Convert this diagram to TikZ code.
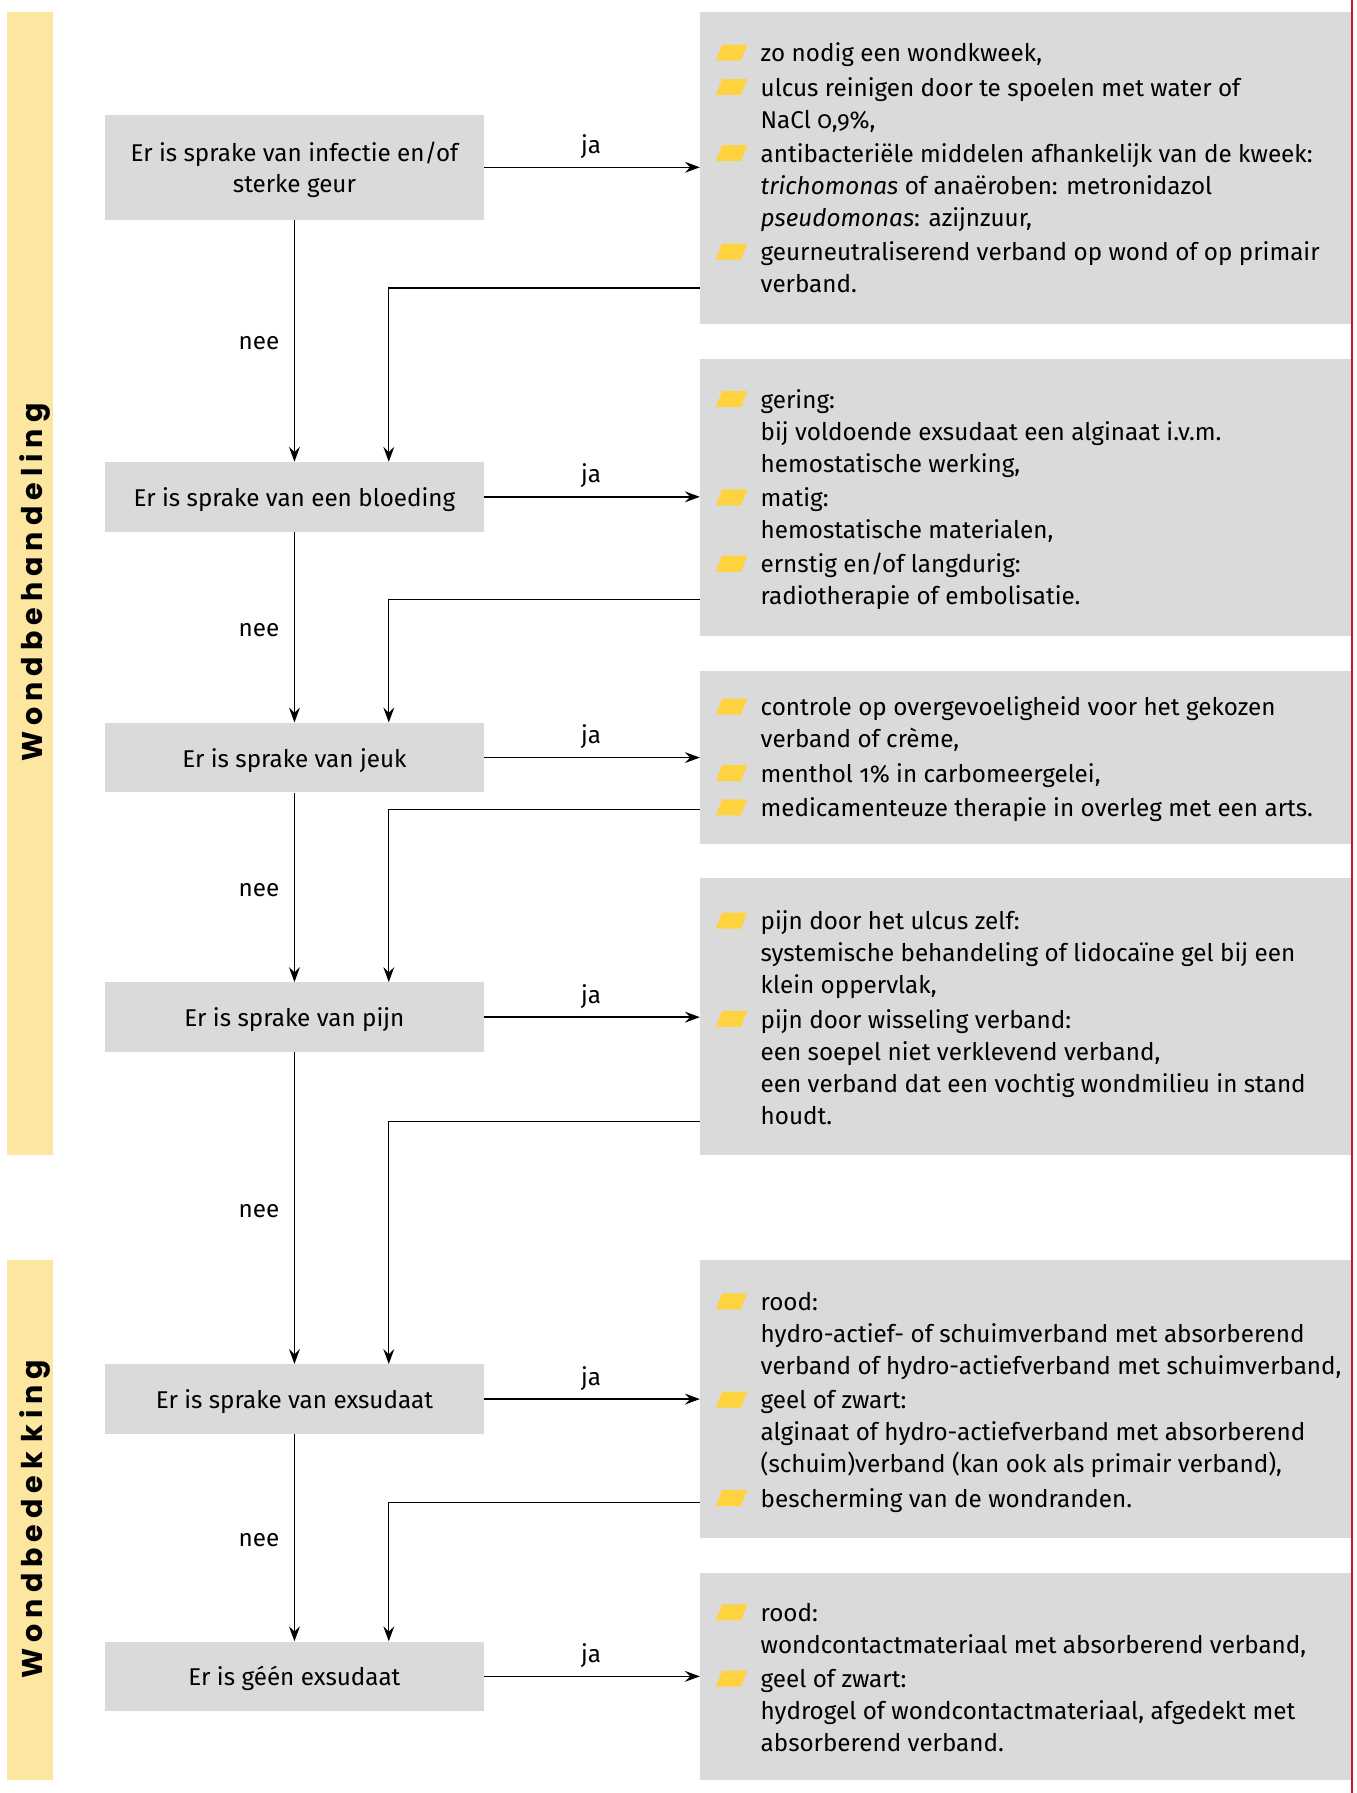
\documentclass[tikz,border=0pt]{standalone}
\usepackage{fontspec}
\setmainfont{Fira Sans}[Numbers=OldStyle]
\newfontfamily\labfont{Poppins}[LetterSpace=21]
\usetikzlibrary{arrows.meta}
\definecolor{boxgray}{RGB}{218,218,218}
\definecolor{baryel}{RGB}{253,230,160}
\definecolor{bulyel}{RGB}{255,210,64}
\definecolor{redline}{RGB}{200,20,60}
\newcommand\txtsz{\fontsize{21.2}{28}\selectfont}
\newcommand\bul[1]{\fill[bulyel] (626,#1-1) -- (648,#1-1) -- (653.5,#1-15) -- (631.5,#1-15) -- cycle;}
\newcommand\itm[1]{\parbox[t]{540pt}{\raggedright #1}}
\begin{document}
\begin{tikzpicture}[x=1pt,y=-1pt,
  lbox/.style={fill=boxgray, inner sep=0pt, minimum width=331.5pt, minimum height=61pt, font=\txtsz},
  oneline/.style={text height=19.5pt, text depth=3pt},
  rbox/.style={fill=boxgray, inner sep=0pt, minimum width=570pt, anchor=north west},
  bar/.style={fill=baryel, inner sep=0pt, minimum width=40pt, anchor=north west},
  barlab/.style={rotate=90, anchor=base, inner sep=0pt, font=\labfont\bfseries\fontsize{25}{30}\selectfont},
  item/.style={anchor=base west, inner sep=0pt, font=\txtsz},
  lab/.style={inner sep=0pt, font=\txtsz},
  conn/.style={line width=1.2pt, -{Stealth[length=13pt,width=9.5pt,inset=4.5pt]}}]
\useasboundingbox (0,0) rectangle (1186,1568);

% side bars
\node[bar, minimum height=1000pt] (bar1) at (6,10) {};
\node[bar, minimum height=454pt] (bar2) at (6,1102) {};
\node[barlab] (barlab1) at (37.5,509.5) {Wondbehandeling};
\node[barlab] (barlab2) at (37.5,1328.5) {Wondbedek\kern8pt king};

% right boxes
\node[rbox, minimum height=273pt] (R1) at (612,10) {};
\node[rbox, minimum height=242pt] (R2) at (612,314) {};
\node[rbox, minimum height=151pt] (R3) at (612,587) {};
\node[rbox, minimum height=242pt] (R4) at (612,768) {};
\node[rbox, minimum height=243pt] (R5) at (612,1102) {};
\node[rbox, minimum height=181pt] (R6) at (612,1375) {};

\draw[redline, line width=1.5pt] (1182.5,0) -- (1182.5,1568);

% left boxes
\node[lbox, minimum height=91.4pt, align=center, text depth=0pt, font=\fontsize{21.2}{27.6}\selectfont] (B1) at (257.5,146.3) {Er is sprake van infectie en/of\\sterke geur};
\node[lbox, oneline] (B2) at (257.5,434.5) {Er is sprake van een bloeding};
\node[lbox, oneline] (B3) at (257.5,662.5) {Er is sprake van jeuk};
\node[lbox, oneline] (B4) at (257.5,889.5) {Er is sprake van pijn};
\node[lbox, oneline] (B5) at (257.5,1223.5) {Er is sprake van exsudaat};
\node[lbox, oneline] (B6) at (257.5,1466) {Er is géén exsudaat};

% right box texts
\bul{54}\bul{84}\bul{142}\bul{228}
\node[item] (t11) at (665,54) {\itm{zo nodig een wondkweek,}};
\node[item] (t12) at (665,84) {\itm{ulcus reinigen door te spoelen met water of\\NaCl 0,9\%,}};
\node[item] (t13) at (665,142) {\itm{antibacteriële middelen afhankelijk van de kweek:\\\textit{trichomonas} of anaëroben: metronidazol\\\textit{pseudomonas}: azijnzuur,}};
\node[item] (t14) at (665,228) {\itm{geurneutraliserend verband op wond of op primair\\verband.}};

\bul{357}\bul{443}\bul{501}
\node[item] (t21) at (665,357) {\itm{gering:\\bij voldoende exsudaat een alginaat i.v.m.\\hemostatische werking,}};
\node[item] (t22) at (665,443) {\itm{matig:\\hemostatische materialen,}};
\node[item] (t23) at (665,501) {\itm{ernstig en/of langdurig:\\radiotherapie of embolisatie.}};

\bul{626}\bul{684}\bul{714}
\node[item] (t31) at (665,626) {\itm{controle op overgevoeligheid voor het gekozen\\verband of crème,}};
\node[item] (t32) at (665,684) {\itm{menthol 1\% in carbomeergelei,}};
\node[item] (t33) at (665,714) {\itm{medicamenteuze therapie in overleg met een arts.}};

\bul{813}\bul{899}
\node[item] (t41) at (665,813) {\itm{pijn door het ulcus zelf:\\systemische behandeling of lidocaïne gel bij een\\klein oppervlak,}};
\node[item] (t42) at (665,899) {\itm{pijn door wisseling verband:\\een soepel niet verklevend verband,\\een verband dat een vochtig wondmilieu in stand\\houdt.}};

\bul{1146}\bul{1232}\bul{1318}
\node[item] (t51) at (665,1146) {\itm{rood:\\hydro-actief- of schuimverband met absorberend\\verband of hydro-actiefverband met schuimverband,}};
\node[item] (t52) at (665,1232) {\itm{geel of zwart:\\alginaat of hydro-actiefverband met absorberend\\(schuim)verband (kan ook als primair verband),}};
\node[item] (t53) at (665,1318) {\itm{bescherming van de wondranden.}};

\bul{1418}\bul{1476}
\node[item] (t61) at (665,1418) {\itm{rood:\\wondcontactmateriaal met absorberend verband,}};
\node[item] (t62) at (665,1476) {\itm{geel of zwart:\\hydrogel of wondcontactmateriaal, afgedekt met\\absorberend verband.}};

% ja arrows
\foreach \b/\r in {B1/R1,B2/R2,B3/R3,B4/R4,B5/R5,B6/R6}
  \draw[conn] (\b.east) -- (\b.east -| \r.west);
\node[lab, anchor=base] (ja1) at (517,134) {ja};
\node[lab, anchor=base] (ja2) at (517,422.2) {ja};
\node[lab, anchor=base] (ja3) at (517,650.2) {ja};
\node[lab, anchor=base] (ja4) at (517,877.2) {ja};
\node[lab, anchor=base] (ja5) at (517,1211.2) {ja};
\node[lab, anchor=base] (ja6) at (517,1453.7) {ja};

% nee arrows
\draw[conn] (B1.south) -- (B2.north);
\draw[conn] (B2.south) -- (B3.north);
\draw[conn] (B3.south) -- (B4.north);
\draw[conn] (B4.south) -- (B5.north);
\draw[conn] (B5.south) -- (B6.north);
\node[lab, anchor=base east] (nee1) at (244.5,306) {nee};
\node[lab, anchor=base east] (nee2) at (244.5,556.5) {nee};
\node[lab, anchor=base east] (nee3) at (244.5,784) {nee};
\node[lab, anchor=base east] (nee4) at (244.5,1064.5) {nee};
\node[lab, anchor=base east] (nee5) at (244.5,1352.7) {nee};

% return arrows
\coordinate (retx) at (340,0);
\coordinate (ret1) at (612,252);
\coordinate (ret2) at (612,524);
\coordinate (ret3) at (612,708);
\coordinate (ret4) at (612,981);
\coordinate (ret5) at (612,1314);
\draw[conn] (ret1) -| (B2.north -| retx);
\draw[conn] (ret2) -| (B3.north -| retx);
\draw[conn] (ret3) -| (B4.north -| retx);
\draw[conn] (ret4) -| (B5.north -| retx);
\draw[conn] (ret5) -| (B6.north -| retx);
\end{tikzpicture}
\end{document}
